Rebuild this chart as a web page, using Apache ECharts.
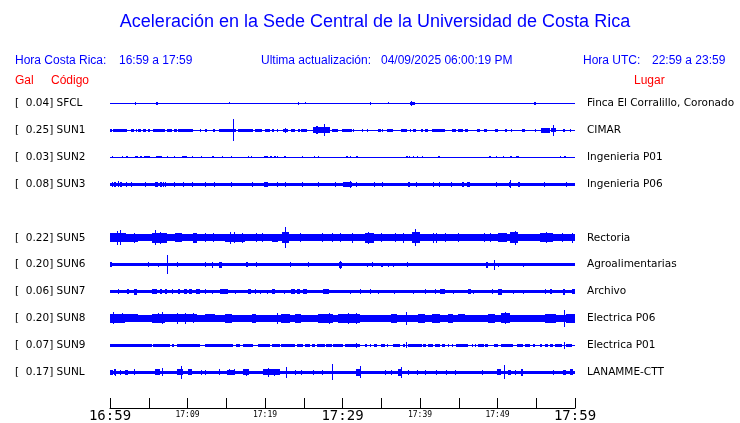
<!DOCTYPE html>
<html><head><meta charset="utf-8">
<script src="https://cdn.jsdelivr.net/npm/echarts@6/dist/echarts.min.js"></script>
<style>html,body{margin:0;padding:0;background:#fff}#c{width:740px;height:423px}</style>
</head><body><div id="c"></div>
<script>
// ---------------- data ----------------
const titleText = 'Aceleración en la Sede Central de la Universidad de Costa Rica';
const localRange = '16:59 a 17:59';
const utcRange = '22:59 a 23:59';
const updatedAt = '04/09/2025 06:00:19 PM';
const codes = ['SFCL','SUN1','SUN2','SUN3','SUN5','SUN6','SUN7','SUN8','SUN9','SUNL'];
const galValues = [0.04,0.25,0.03,0.08,0.22,0.20,0.06,0.20,0.07,0.17];
const places = ['Finca El Corralillo, Coronado','CIMAR','Ingenieria P01','Ingenieria P06','Rectoria','Agroalimentarias','Archivo','Electrica P06','Electrica P01','LANAMME-CTT'];
const tickLabels = ['16:59','','17:09','','17:19','','17:29','','17:39','','17:49','','17:59'];
const majorTicks = ['16:59','17:29','17:59'];
// background (continuous) half-amplitude of each trace
const baseAmp = [0.5,0.5,0.5,1.5,3.5,1.5,1.5,3.2,0.5,1.5];
// bursts / spikes: [start minute, end minute, half-amplitude]
const ev_SFCL = [[3.27,3.27,1.5],[5.9,6.15,1.3],[15.3,15.3,1],[24.3,24.3,1.5],[25.2,25.2,1],[33.5,33.5,1.5],[35.9,35.9,1],[38.7,39.4,1.8],[38.8,38.8,2.5],[54.7,55.0,1.3]];
const ev_SUN1 = [[0,0.3,1.4],[0.43,2.15,1.4],[2.7,3.1,1.4],[3.3,3.5,1.4],[3.65,4.0,1.4],[4.3,4.7,1.4],[4.95,5.16,1.4],[5.6,7.1,1.4],[7.3,7.96,1.4],[8.2,8.6,1.4],[8.8,10.75,1.4],[11.6,11.8,1.4],[12.2,12.5,1.4],[13.3,13.5,1.4],[14.1,14.8,1.4],[14.8,16.3,1.4],[15.9,15.9,11],[16.55,18.5,1.4],[18.7,19.6,1.4],[20.0,20.6,1.4],[20.9,21.1,1.4],[21.5,21.7,1.4],[22.35,23.0,1.6],[22.6,22.6,2.5],[23.4,23.9,1.4],[24.2,24.5,1.4],[24.7,25.4,1.4],[26.2,28.4,2.8],[26.6,26.9,4],[27.65,27.65,6],[28.6,29.45,1.5],[29.9,30.3,1.4],[30.3,31.2,1.4],[31.4,31.4,1.4],[32.5,32.7,1.4],[33.1,33.1,1.4],[34.6,35.0,1.4],[35.05,35.05,1.5],[35.8,36.55,1.4],[37.6,38.3,1.4],[38.7,38.7,1.4],[39.05,39.5,1.4],[40.1,40.4,1.4],[40.6,41.0,1.4],[41.6,43.2,1.4],[44.1,44.7,1.4],[44.9,45.5,1.4],[45.8,46.2,1.4],[47.3,47.7,1.4],[48.2,48.6,1.4],[49.7,50.1,1.4],[51.0,51.2,1.4],[51.8,51.8,1.4],[53.1,53.55,1.4],[54.8,55.0,1.4],[55.6,56.75,2.5],[56.9,57.6,2],[57.2,57.2,5.3],[58.5,58.7,1.4],[59.3,59.5,1.4]];
const ev_SUN2 = [[0.2,0.4,1.3],[1.5,1.5,1.3],[2.06,2.28,1.3],[3.2,3.65,1.3],[3.9,4.1,1.3],[4.4,4.86,1.3],[4.95,5.16,1.3],[5.9,6.67,1.3],[7.3,7.3,1.3],[8.3,8.3,1.3],[9.25,9.9,1.3],[10.6,10.6,1.3],[11.7,11.7,1.3],[13.2,13.45,1.3],[14.4,14.6,1.3],[15.6,15.6,1.3],[17.75,17.75,1.3],[18.2,18.2,1.3],[19.9,20.35,1.3],[20.65,20.86,1.3],[21.2,21.4,1.3],[21.5,21.7,1.3],[22.5,22.65,1.3],[24.8,24.8,1.2],[26.35,26.35,1.3],[26.9,26.9,1.3],[30.5,30.7,1.3],[31.0,31.0,1.3],[31.7,31.95,1.3],[38.2,38.4,1.3],[38.6,38.6,1.3],[39.1,39.1,1.3],[39.55,39.55,1.3],[40.3,40.3,1.2],[42.35,42.6,1.3],[48.9,49.1,1.3],[49.75,49.75,1.3],[50.7,50.7,1.3],[51.6,51.9,1.3],[52.45,52.75,1.3],[58.1,58.1,1.3],[58.55,58.8,1.3]];
const ev_SUN3 = [[0.3,0.3,2.5],[0.55,0.73,2.5],[1.0,1.0,3],[1.3,1.5,2.5],[2.0,2.0,2.5],[2.7,2.7,2.5],[4.5,4.7,2.5],[5.8,6.2,2.5],[6.45,6.67,2.5],[6.9,7.0,2.5],[7.1,7.1,2.5],[8.2,8.2,2.5],[9.45,9.45,2.5],[10.6,10.6,2.5],[12.25,12.25,2.5],[13.45,13.45,2.5],[15.6,15.8,2.5],[18.35,18.35,2.5],[19.9,20.35,2.5],[21.5,21.7,2.5],[22.6,22.6,2.5],[24.8,24.8,2.5],[26.9,26.9,2.5],[29.0,29.0,2.5],[30.1,31.2,2.5],[31.0,31.0,3.5],[31.8,31.8,2.5],[34.1,34.1,2.5],[35.1,35.1,2.5],[38.4,38.7,2.5],[39.45,39.45,2.5],[41.7,41.7,2.5],[42.5,42.5,2.5],[44.0,44.0,2.5],[45.4,45.7,2.5],[46.1,46.4,2.5],[49.75,49.75,2.5],[51.5,51.8,2.5],[51.65,51.65,4],[52.6,52.9,2.5],[56.0,56.0,2.5],[58.8,58.8,2.5]];
const ev_SUN5 = [[0,2.0,4.5],[0.86,0.86,7],[1.29,1.29,7.5],[1.93,3.65,3.8],[3.14,3.14,5],[5.4,7.3,5],[5.8,5.8,7.5],[6.5,6.5,6],[8.4,9.25,4.5],[10.75,11.2,5],[12.25,12.25,4.5],[13.3,13.3,4.5],[14.83,17.4,4.2],[15.5,15.5,6],[16.0,16.0,5.5],[17.0,17.0,5],[18.9,18.9,4.5],[19.6,19.6,4.5],[20.9,21.7,4.2],[22.2,23.1,5.5],[22.6,22.6,10.5],[24.5,24.5,4.5],[27.3,27.3,4.5],[28.6,28.6,4.5],[29.7,29.7,4.5],[31.2,31.2,5],[32.9,34.0,5],[33.3,33.3,6],[35.0,35.0,4.5],[36.75,36.75,4.5],[37.8,37.8,5],[39.0,40.0,5.5],[39.3,39.3,8.5],[41.7,41.7,5],[42.1,42.1,5],[43.2,43.2,4.5],[44.9,44.9,4.5],[48.2,48.2,4.5],[49.0,49.0,4.5],[50.1,51.2,4.5],[51.6,52.7,5.5],[52.2,52.2,7],[55.5,57.2,4.5],[56.3,56.3,5.5],[58.3,58.3,4.5],[59.6,59.6,5]];
const ev_SUN6 = [[0,0.2,2.5],[4.95,4.95,2.5],[6.2,6.2,2],[7.4,7.4,9.3],[8.7,8.7,2.5],[12.2,12.2,2.5],[13.1,13.3,3],[14.0,14.4,3],[17.6,17.8,2.5],[18.8,18.8,2.5],[23.2,23.2,2.5],[25.5,25.5,2.5],[29.5,29.9,3],[29.7,29.7,4],[33.1,33.1,2],[33.8,33.8,2.5],[35.0,35.25,2],[35.9,35.9,2],[36.5,36.5,2],[38.3,38.3,2.5],[48.5,48.8,3],[49.5,49.5,5],[50.1,50.1,2],[53.3,53.3,2]];
const ev_SUN7 = [[1.0,1.16,2.5],[2.15,2.45,2.5],[3.14,3.5,3],[5.4,5.4,2.5],[5.6,6.0,2.5],[6.45,6.67,2.5],[7.1,7.3,2.5],[8.0,8.0,2.5],[8.8,9.0,2.5],[9.55,9.9,2.5],[10.2,10.6,2.5],[11.05,11.6,2.5],[12.2,12.2,2.5],[13.1,13.1,2],[14.2,14.8,2.5],[14.8,15.2,2.5],[16.1,16.1,2],[17.8,18.2,2.5],[18.7,18.7,2.5],[19.3,19.3,2],[20.2,20.2,2],[20.85,21.3,2.5],[22.4,22.4,2],[23.4,23.9,2.5],[24.1,24.5,2.5],[24.9,25.4,2.5],[27.5,28.2,2.5],[30.95,30.95,2],[32.3,32.3,2.5],[33.5,33.7,2.5],[34.6,34.6,2],[36.7,36.7,2],[39.1,39.1,2],[40.6,40.6,2.5],[41.9,42.1,2.5],[42.55,43.2,2.5],[44.3,44.3,2],[46.2,46.6,2.5],[46.9,46.9,2],[49.3,49.3,2.5],[50.1,50.6,3],[52.0,52.0,2],[53.3,53.3,2],[56.1,56.3,2.5],[56.8,57.0,2.5],[58.5,58.7,3],[59.6,60,2.5]];
const ev_SUN8 = [[0,1.9,4.5],[0.43,0.43,6],[1.5,1.5,5],[1.9,3.65,4],[5.4,7.1,4.5],[6.2,6.2,5],[6.67,6.67,6],[7.1,11.2,4],[8.6,8.6,5.5],[9.7,9.7,5.5],[10.75,10.75,5],[12.25,13.55,4],[14.8,15.7,4.5],[18.3,18.9,4.5],[21.5,21.5,5.5],[22.1,23.2,4.5],[23.9,24.7,4.5],[26.9,28.8,4.5],[28.2,28.2,5.5],[29.45,30.3,4.5],[30.3,32.2,4.5],[30.7,30.7,5.5],[31.8,31.8,5.5],[36.3,37.0,4.5],[38.2,38.2,6.5],[39.8,40.6,4.5],[41.5,42.6,4.5],[43.6,44.3,4.5],[44.9,45.8,4],[48.8,49.7,4.5],[50.5,51.6,5],[51.0,51.0,6],[51.6,54.8,3.5],[56.1,57.6,4.5],[58.6,58.6,8.5],[58.9,60,4.5]];
const ev_SUN9 = [[0,5.4,1.5],[5.6,7.7,1.5],[7.95,8.2,1.5],[8.6,11.6,1.5],[12.25,14.8,1.5],[14.8,15.9,1.5],[16.3,16.8,1.5],[17.2,18.5,1.5],[19.1,20.6,1.5],[20.85,21.9,1.5],[22.1,23.9,1.5],[24.1,24.9,1.5],[25.2,25.8,1.5],[26.0,26.4,1.5],[26.7,27.7,1.5],[27.9,28.6,1.5],[28.8,30.1,1.5],[30.3,32.2,1.5],[31.8,31.8,2.5],[32.9,33.1,1.5],[33.5,33.5,1.5],[34.0,34.4,1.5],[35.0,35.5,1.5],[35.7,35.9,1.5],[36.5,37.4,1.5],[37.8,38.0,1.5],[38.2,38.2,3],[38.5,40.2,1.5],[40.4,40.8,1.5],[41.05,41.7,1.5],[41.9,42.55,1.5],[42.8,43.2,1.5],[43.6,43.6,1.5],[44.1,44.1,1.5],[44.7,45.8,1.5],[45.8,46.2,1.5],[46.7,46.7,1.5],[47.1,47.1,1.5],[47.5,48.2,1.5],[48.4,48.8,1.5],[49.5,50.1,1.5],[50.5,52.0,1.5],[52.5,53.3,1.5],[53.5,54.2,1.5],[54.6,54.8,1.5],[55.5,55.7,1.5],[56.1,56.55,1.5],[56.8,57.2,1.5],[57.4,58.3,1.5],[58.6,58.6,3.7],[58.9,59.6,1.5]];
const ev_SUNL = [[0,0.43,2.5],[0.56,0.73,3],[0.65,0.65,3.5],[1.3,1.3,2.5],[1.9,2.36,2.5],[3.14,3.14,3],[5.8,6.45,3],[6.67,6.67,4],[8.7,9.46,3],[9.15,9.15,6.5],[10.0,10.6,3],[11.8,11.8,2.5],[12.25,12.25,2.5],[14.0,14.2,3],[15.05,16.1,2.5],[15.3,15.3,3],[16.0,16.0,3],[17.2,17.9,3],[17.6,17.6,3.5],[19.8,21.9,3],[20.4,20.4,4.5],[21.2,21.2,3.5],[22.7,22.7,5.5],[23.9,23.9,2.5],[24.7,24.7,2.5],[26.2,26.2,2.5],[27.3,27.3,2.5],[28.7,28.7,8],[31.8,32.4,3.5],[32.2,32.2,6],[35.5,35.5,2.5],[36.3,36.3,2.5],[37.2,37.6,3.5],[37.5,37.5,5.5],[38.5,38.5,2.5],[39.55,39.55,2.5],[40.6,40.6,2.5],[42.1,42.1,2.5],[43.4,43.4,2.5],[44.5,44.5,2.5],[48.0,48.0,2.5],[49.9,50.5,3],[50.9,50.9,7],[51.4,51.8,2.5],[52.25,52.25,2.5],[53.0,53.3,3.5],[57.2,57.2,2.5],[58.5,58.9,2.5],[59.35,59.8,3]];
const events = [ev_SFCL, ev_SUN1, ev_SUN2, ev_SUN3, ev_SUN5, ev_SUN6, ev_SUN7, ev_SUN8, ev_SUN9, ev_SUNL];

// ---------------- layout / build ----------------
const ROW_PX = 27;              // amplitude units per row spacing
const slotOf = i => (i < 4 ? i : i + 1);   // blank slot between SUN3 and SUN5
const stationOfSlot = {};
codes.forEach((c, i) => { stationOfSlot[slotOf(i)] = i; });

const traceData = [];
codes.forEach((c, i) => {
  const s = slotOf(i);
  traceData.push([s, 0, 60, baseAmp[i]]);
  events[i].forEach(e => traceData.push([s, e[0], e[1], e[2]]));
});

function renderItem(params, api) {
  const slot = api.value(0), t0 = api.value(1), t1 = api.value(2), h = api.value(3);
  const a = api.coord([t0, slot]);
  const b = api.coord([t1, slot]);
  const top = api.coord([t0, slot - h / ROW_PX])[1];
  const bot = api.coord([t0, slot + h / ROW_PX])[1];
  const x0 = Math.round(a[0]);
  const w = Math.max(Math.round(b[0]) - x0, 1);
  let y0 = Math.round(Math.min(top, bot)), y1 = Math.round(Math.max(top, bot));
  if (y1 <= y0) y1 = y0 + 1;
  return { type: 'rect', shape: { x: x0, y: y0, width: w, height: y1 - y0 }, style: { fill: '#0000ff' } };
}

const labelFont = 'DejaVu Sans';
const pad = v => { const s = v.toFixed(2); return ' '.repeat(Math.max(0, 6 - s.length)) + s; };

const chart = echarts.init(document.getElementById('c'), null, { renderer: 'canvas' });
const blue = '#0000ff', red = '#ff0000';
const hdr = (text, x, y, color, size, align) => ({
  type: 'text', x: x, y: y, silent: true,
  style: { text: text, fill: color, fontSize: size || 12, fontFamily: 'Liberation Sans', align: align || 'left', verticalAlign: 'middle' }
});

chart.setOption({
  animation: false,
  backgroundColor: '#fff',
  grid: { left: 110, right: 165, top: 76.5, bottom: 13.5, containLabel: false },
  xAxis: {
    type: 'value', min: 0, max: 60, interval: 5, position: 'bottom',
    axisLine: { show: true, onZero: false, lineStyle: { color: '#000', width: 1 } },
    axisTick: { show: true, inside: true, length: 10, lineStyle: { color: '#000', width: 1 } },
    splitLine: { show: false },
    axisLabel: {
      margin: 1, color: '#000',
      formatter: v => {
        const t = tickLabels[Math.round(v / 5)] || '';
        if (!t) return '';
        return majorTicks.indexOf(t) >= 0 ? '{big|' + t + '}' : '{small|' + t + '}';
      },
      rich: {
        big: { fontFamily: 'DejaVu Sans Mono', fontSize: 14, lineHeight: 14, color: '#000' },
        small: { fontFamily: 'DejaVu Sans Mono', fontSize: 8, lineHeight: 12, color: '#000' }
      }
    }
  },
  yAxis: [{
    type: 'value', inverse: true, min: -1, max: 11.333, interval: 1, position: 'left',
    axisLine: { show: false }, axisTick: { show: false }, splitLine: { show: false },
    axisLabel: {
      margin: 95, align: 'left', color: '#000', fontFamily: labelFont, fontSize: 10.5,
      formatter: v => { const i = stationOfSlot[v]; return i === undefined ? '' : '[' + pad(galValues[i]) + '] ' + codes[i]; }
    }
  }, {
    type: 'value', inverse: true, min: -1, max: 11.333, interval: 1, position: 'right',
    axisLine: { show: false }, axisTick: { show: false }, splitLine: { show: false },
    axisLabel: {
      margin: 12, align: 'left', color: '#000', fontFamily: labelFont, fontSize: 10.5,
      formatter: v => { const i = stationOfSlot[v]; return i === undefined ? '' : places[i]; }
    }
  }],
  graphic: [
    hdr(titleText, 375, 22, blue, 18, 'center'),
    hdr('Hora Costa Rica:', 15, 61, blue),
    hdr(localRange, 119, 61, blue),
    hdr('Ultima actualización:', 261, 61, blue),
    hdr(updatedAt, 381, 61, blue),
    hdr('Hora UTC:', 583, 61, blue),
    hdr(utcRange, 652, 61, blue),
    hdr('Gal', 15, 81, red),
    hdr('Código', 51, 81, red),
    hdr('Lugar', 634, 81, red)
  ],
  series: [{
    type: 'custom', coordinateSystem: 'cartesian2d', xAxisIndex: 0, yAxisIndex: 0,
    renderItem: renderItem, encode: { x: [1, 2], y: 0 }, data: traceData, silent: true, clip: false
  }]
});
</script></body></html>
